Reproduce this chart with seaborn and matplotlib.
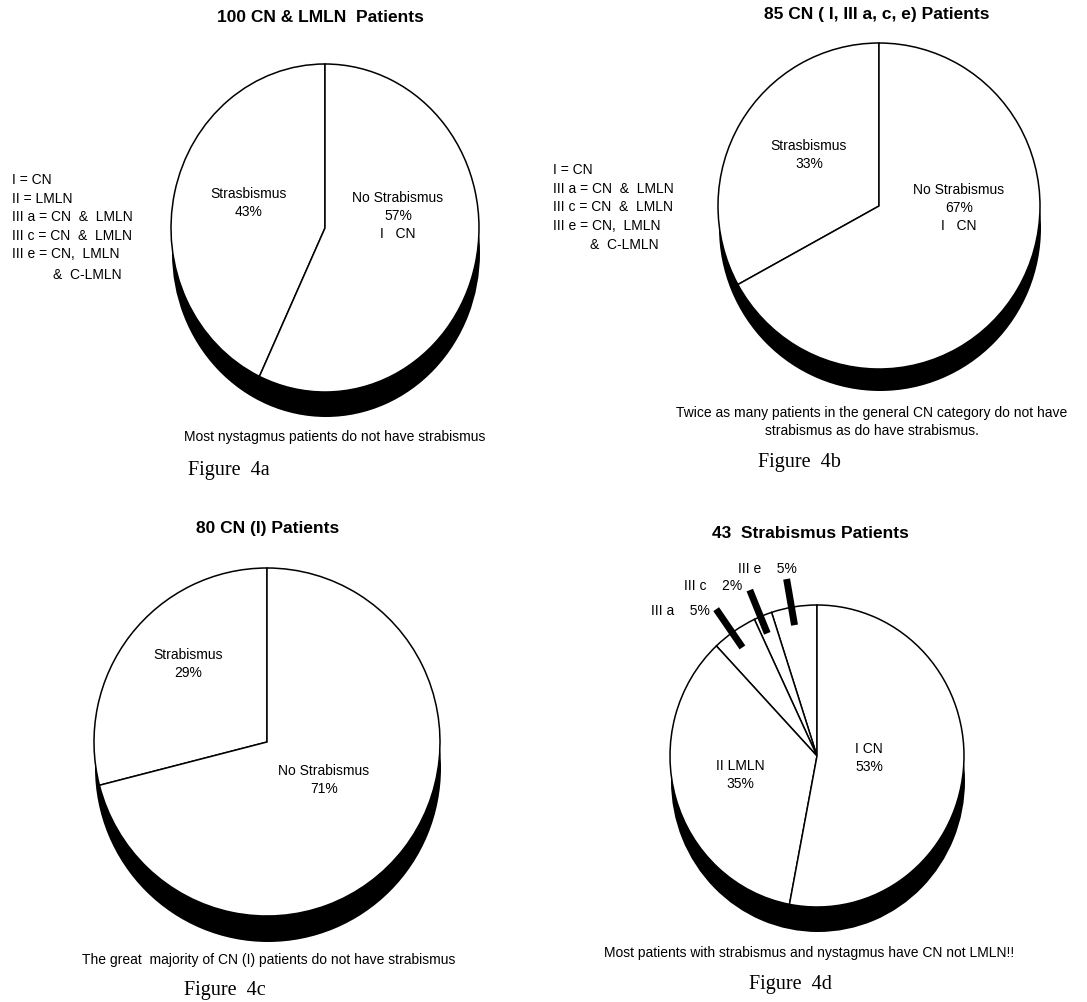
import numpy as np
import matplotlib
matplotlib.use("Agg")
import matplotlib.pyplot as plt
import seaborn as sns

# pie data (percent)
a_labels = ["Strasbismus", "No Strabismus"]
a_values = [43, 57]
b_labels = ["Strasbismus", "No Strabismus"]
b_values = [33, 67]
c_labels = ["Strabismus", "No Strabismus"]
c_values = [29, 71]
d_labels = ["III e", "III c", "III a", "II LMLN", "I CN"]
d_values = [5, 2, 5, 35, 53]

titles = ["100 CN & LMLN  Patients", "85 CN ( I, III a, c, e) Patients",
          "80 CN (I) Patients", "43  Strabismus Patients"]
captions = ["Most nystagmus patients do not have strabismus",
            "Twice as many patients in the general CN category do not have\nstrabismus as do have strabismus.",
            "The great  majority of CN (I) patients do not have strabismus",
            "Most patients with strabismus and nystagmus have CN not LMLN!!"]
fig_names = ["Figure  4a", "Figure  4b", "Figure  4c", "Figure  4d"]
key_a = ["I = CN", "II = LMLN", "III a = CN  &  LMLN", "III c = CN  &  LMLN", "III e = CN,  LMLN"]
key_b = ["I = CN", "III a = CN  &  LMLN", "III c = CN  &  LMLN", "III e = CN,  LMLN"]

sns.set_theme(style="white")
plt.rcParams['font.family'] = ['Liberation Sans', 'DejaVu Sans']
plt.rcParams['text.color'] = 'black'

W, H = 1087, 1002
fig = plt.figure(figsize=(W / 100, H / 100), dpi=100)
fig.patch.set_facecolor("white")

def ftext(x, y, s, **kw):
    kw.setdefault("ha", "center")
    kw.setdefault("va", "center")
    kw.setdefault("color", "black")
    return fig.text(x / W, 1 - y / H, s, **kw)

def pie_axes(cx, cy, rx, ry, values, shadow):
    ax = fig.add_axes([(cx - rx) / W, 1 - (cy + ry) / H, 2 * rx / W, 2 * ry / H])
    # black offset disc gives the 3d edge
    sh, _ = ax.pie([1], radius=1, center=(1 / rx, -shadow / ry), colors=["black"],
                   wedgeprops=dict(linewidth=0))
    wedges, _ = ax.pie(values, startangle=90, counterclock=True, radius=1,
                       colors=["white"] * len(values),
                       wedgeprops=dict(edgecolor="black", linewidth=1.1))
    for p in sh + wedges:
        p.set_clip_on(False)
    ax.set_aspect("auto")
    ax.set_xlim(-1, 1)
    ax.set_ylim(-1, 1)
    ax.axis("off")
    return ax, wedges

lab_kw = dict(fontsize=10, linespacing=1.4)
key_kw = dict(fontsize=10, linespacing=1.42, ha="left", va="top")
title_kw = dict(fontsize=12.5, fontweight="bold")
cap_kw = dict(fontsize=10, linespacing=1.35)
figname_kw = dict(fontsize=14.5, family=["Liberation Serif", "DejaVu Serif"], ha="left")

# ---- 4a
pie_axes(325, 228, 154, 164, a_values, 25)
ftext(320, 18, titles[0], **title_kw)
ftext(249, 203, f"{a_labels[0]}\n{a_values[0]}%", **lab_kw)
ftext(398, 216, f"{a_labels[1]}\n{a_values[1]}%\nI   CN", **lab_kw)
ftext(12, 173, "\n".join(key_a), **key_kw)
ftext(53, 275, "&  C-LMLN", ha="left", fontsize=10)
ftext(335, 437, captions[0], **cap_kw)
ftext(188, 470, fig_names[0], **figname_kw)

# ---- 4b
pie_axes(879, 206, 161, 163, b_values, 22)
ftext(877, 15, titles[1], **title_kw)
ftext(809, 155, f"{b_labels[0]}\n{b_values[0]}%", **lab_kw)
ftext(959, 208, f"{b_labels[1]}\n{b_values[1]}%\nI   CN", **lab_kw)
ftext(553, 163, "\n".join(key_b), **key_kw)
ftext(590, 245, "&  C-LMLN", ha="left", fontsize=10)
ftext(872, 422, captions[1], **cap_kw)
ftext(758, 463, fig_names[1], **figname_kw)

# ---- 4c
pie_axes(267, 742, 173, 174, c_values, 26)
ftext(268, 528, titles[2], **title_kw)
ftext(188, 664, f"{c_labels[0]}\n{c_values[0]}%", **lab_kw)
ftext(324, 780, f"{c_labels[1]}\n{c_values[1]}%", **lab_kw)
ftext(269, 960, captions[2], **cap_kw)
ftext(184, 990, fig_names[2], **figname_kw)

# ---- 4d
ax_d, wd = pie_axes(817, 756, 147, 151, d_values, 25)
ftext(810, 533, titles[3], **title_kw)
ftext(869, 758, f"I CN\n{d_values[4]}%", **lab_kw)
ftext(740, 775, f"II LMLN\n{d_values[3]}%", **lab_kw)
# thick leader bars for the three small slices
for w in wd[:3]:
    mid = np.deg2rad((w.theta1 + w.theta2) / 2 + 1)
    r = np.array([0.88, 1.19])
    ax_d.plot(r * np.cos(mid), r * np.sin(mid), color="black", lw=5, solid_capstyle="butt",
              clip_on=False)
small_pos = [(767, 569), (713, 586), (680, 611)]
for (x, y), name, v in zip(small_pos, d_labels[:3], d_values[:3]):
    ftext(x, y, f"{name}    {v}%", fontsize=10)
ftext(809, 953, captions[3], **cap_kw)
ftext(749, 985, fig_names[3], **figname_kw)

fig.savefig("out.png", dpi=100, facecolor="white")
